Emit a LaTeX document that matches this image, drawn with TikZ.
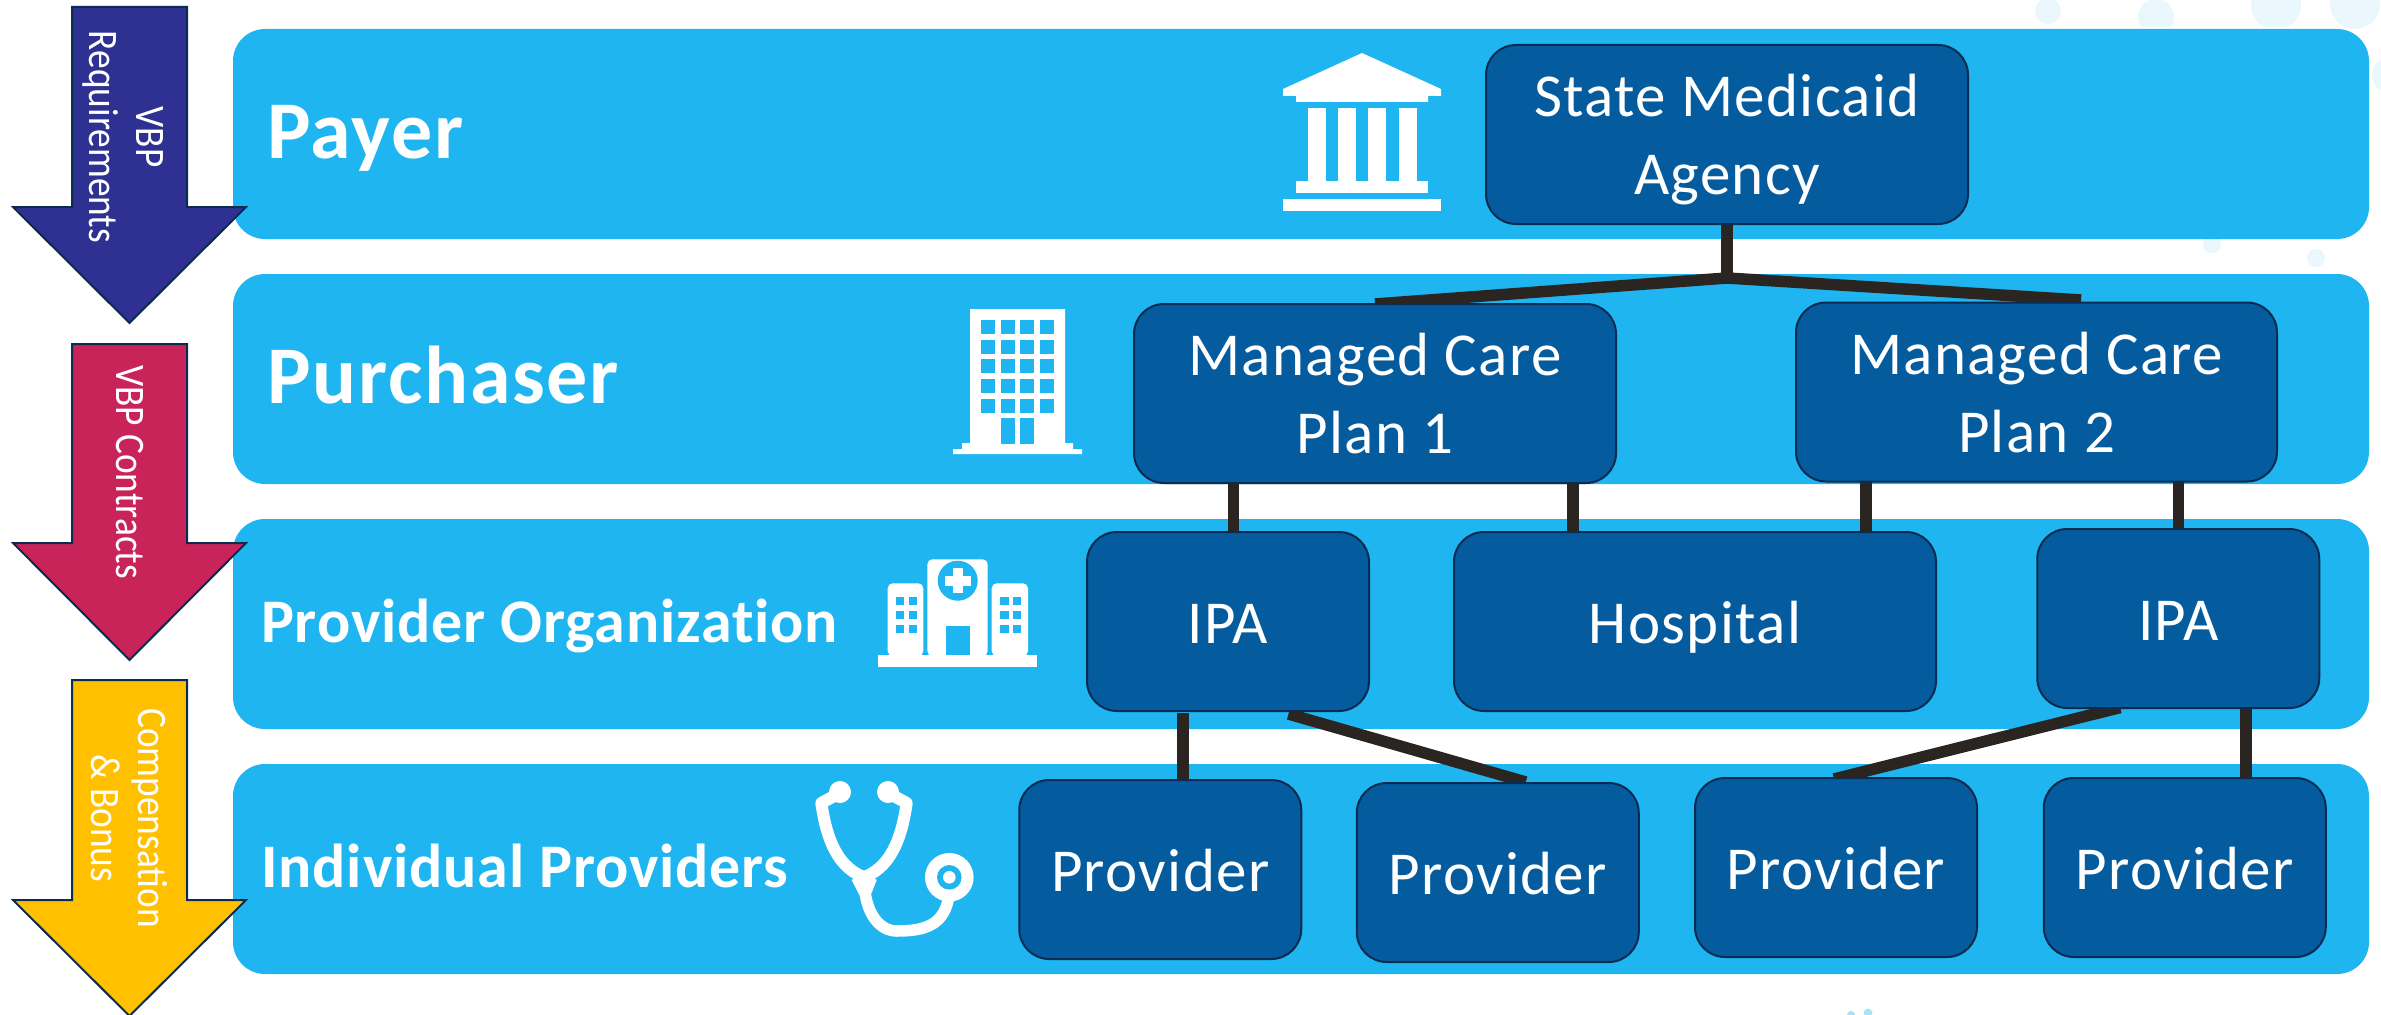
\documentclass[tikz,border=0pt]{standalone}
\usepackage{fontspec}
\setmainfont{Carlito}[Ligatures = NoCommon, LetterSpace = 1.4]
\newfontfamily\boxfont{Carlito}[Ligatures = NoCommon, LetterSpace = 2.2]
\newfontfamily\sidefont{Carlito}[FakeStretch = 0.89]
\usepackage{xcolor}
\usetikzlibrary{calc, backgrounds}

\definecolor{bandblue}{HTML}{1EB5F0}
\definecolor{boxblue}{HTML}{045C9F}
\definecolor{boxedge}{HTML}{0B2C50}
\definecolor{linkdark}{HTML}{2B2522}
\definecolor{navyarrow}{HTML}{2E3192}
\definecolor{redarrow}{HTML}{C9245A}
\definecolor{goldarrow}{HTML}{FFC000}
\definecolor{paledot}{HTML}{EAF7FD}
\definecolor{brightdot}{HTML}{A5E3F7}

\tikzset{
	band/.style = {fill = bandblue, rounded corners = 32pt},
	orgbox/.style = {draw = boxedge, fill = boxblue, line width = 2pt, rounded corners = 30pt, text = white, align = center, minimum width = 282pt, minimum height = 179pt, inner sep = 0pt, outer sep = 0pt, text depth = 0pt, font = \boxfont\fontsize{61}{78}\selectfont},
	oneline/.style = {orgbox, text height = 43pt},
	link/.style = {draw = linkdark, line width = 11.5pt},
	bandlabel/.style = {anchor = base west, text = white, inner sep = 0pt, font = \boxfont\bfseries\fontsize{82}{90}\selectfont},
	smalllabel/.style = {bandlabel, font = \bfseries\fontsize{62}{70}\selectfont},
	sidelabel/.style = {rotate = -90, text = white, align = center, inner sep = 0pt, font = \sidefont\fontsize{42}{47}\selectfont},
	sidearrow/.style = {draw = boxedge, line width = 2pt, miter limit = 10}
}

\begin{document}
\begin{tikzpicture}[x = 1pt, y = -1pt]
		\useasboundingbox (0,0) rectangle (2381,1014);
		
		%faint dots and bands go behind everything
		\begin{scope}[on background layer]
			\fill [paledot] (2048,11) circle [radius = 13pt];
			\fill [paledot] (2156,17) circle [radius = 18pt];
			\fill [paledot] (2276,5) circle [radius = 25pt];
			\fill [paledot] (2355,4) circle [radius = 25pt];
			\fill [paledot] (2390,75) circle [radius = 18pt];
			\fill [paledot] (2212,244) circle [radius = 9pt];
			\fill [paledot] (2316,258) circle [radius = 9pt];
			\fill [brightdot] (1851,1015) circle [radius = 4pt];
			\fill [brightdot] (1868,1013) circle [radius = 4.5pt];
			\fill [white] (2100,27) rectangle (2340,29);
			\foreach \ya/\yb in {29/239, 274/484, 519/729, 764/974}
				\fill [band] (233,\ya) rectangle (2369,\yb);
		\end{scope}
		
		%boxes
		\node [orgbox, minimum width = 482pt] (state) at (1727,134.5) {State Medicaid\\Agency};
		\node [orgbox, minimum width = 482pt] (plan1) at (1375,393.5) {Managed Care\\Plan 1};
		\node [orgbox, minimum width = 481pt] (plan2) at (2036.5,392) {Managed Care\\Plan 2};
		\node [oneline] (ipa1) at (1228,621.5) {IPA};
		\node [oneline, minimum width = 482pt] (hospital) at (1695,621.5) {Hospital};
		\node [oneline] (ipa2) at (2178.25,618.5) {IPA};
		\node [oneline] (provider1) at (1160.25,869.5) {Provider};
		\node [oneline] (provider2) at (1497.75,872.5) {Provider};
		\node [oneline] (provider3) at (1836,867.5) {Provider};
		\node [oneline] (provider4) at (2184.75,867.5) {Provider};
		
		%connectors sit under the boxes
		\coordinate (branch) at ($ (state.south) + (0,54) $);
		\coordinate (tap a) at ($ (ipa1.north) + (5.4,0) $);
		\coordinate (tap b) at ($ (hospital.north) + (-122,0) $);
		\coordinate (tap c) at ($ (hospital.north) + (171,0) $);
		\coordinate (tap d) at ($ (ipa1.south) + (-45,0) $);
		\coordinate (tap e) at ($ (ipa2.south) + (67.75,0) $);
		\begin{scope}[on background layer]
			\draw [link] (state.south) -- (branch);
			\draw [link] (branch) -- (plan1.north);
			\draw [link] (branch) -- ($ (plan2.north) + (44.5,-2.5) $);
			\draw [link] (tap a) -- (tap a |- plan1.south);
			\draw [link] (tap b) -- (tap b |- plan1.south);
			\draw [link] (tap c) -- (tap c |- plan2.south);
			\draw [link] (ipa2.north) -- (ipa2.north |- plan2.south);
			\draw [link] ($ (tap d) + (0,2) $) -- (tap d |- provider1.north);
			\draw [link] ($ (ipa1.south) + (60.5,3) $) -- ($ (provider2.north) + (28,-1) $);
			\draw [link] ($ (ipa2.south) + (-58,-0.5) $) -- ($ (provider3.north) + (-2,1) $);
			\draw [link] (tap e) -- (tap e |- provider4.north);
		\end{scope}
		
		%band labels
		\node [bandlabel] (payer) at (267,158) {Payer};
		\node [bandlabel] (purchaser) at (267,403) {Purchaser};
		\node [smalllabel] (organization) at (261,642) {Provider Organization};
		\node [smalllabel] (individual) at (261,887) {Individual Providers};
		
		%side arrows
		\foreach \ya/\neck/\tip/\shade in {7/207/323/navyarrow, 344/543/660/redarrow, 680/900/1016/goldarrow}
			\draw [sidearrow, fill = \shade] (72,\ya) -- (187,\ya) -- (187,\neck) -- (246,\neck) -- (129.5,\tip) -- (13,\neck) -- (72,\neck) -- cycle;
		\node [sidelabel] (requirements) at (123,137) {VBP\\Requirements};
		\node [sidelabel] (contracts) at (129.5,472) {VBP Contracts};
		\node [sidelabel] (compensation) at (129.5,818) {Compensation\\\& Bonus};
		
		%bank
		\fill [white] (1362,53) -- (1441,89) -- (1441,96) -- (1428,96) -- (1428,102) -- (1296,102) -- (1296,96) -- (1283,96) -- (1283,89) -- cycle;
		\foreach \x in {1308,1338,1368,1399}
			\fill [white] (\x,108) rectangle ++(18,73);
		\fill [white] (1296,181) rectangle (1428,193);
		\fill [white] (1283,199) rectangle (1441,211);
		
		%office block
		\fill [white] (970,309) -- (1065,309) -- (1065,443) -- (1073,443) -- (1073,449) -- (1082,449) -- (1082,454) -- (953,454) -- (953,449) -- (962,449) -- (962,443) -- (970,443) -- cycle;
		\foreach \x in {981,1000.7,1020,1039.7}
			\foreach \y in {320.3,340,359.3,379,398.7}
				\fill [bandblue] (\x,\y) rectangle ++(14,14);
		\fill [bandblue] (1000.7,418) rectangle ++(14,25.7);
		\fill [bandblue] (1020,418) rectangle ++(14,25.7);
		
		%hospital
		\fill [white, rounded corners = 5pt] (927.3,656) -- (927.3,559.3) -- (987.7,559.3) -- (987.7,656) -- cycle;
		\fill [white, rounded corners = 5pt] (887.7,656) -- (887.7,583.3) -- (923.3,583.3) -- (923.3,656) -- cycle;
		\fill [white, rounded corners = 5pt] (991.7,656) -- (991.7,583.3) -- (1028,583.3) -- (1028,656) -- cycle;
		\fill [white] (878,655) rectangle (1036.7,666.7);
		\fill [bandblue] (957.7,580.7) circle [radius = 20pt];
		\fill [white] (953,568.3) rectangle (963,593.3);
		\fill [white] (945,576) rectangle (970.7,586);
		\fill [bandblue] (946.3,626) rectangle (970,655);
		\foreach \x in {896,908.7,1000.3,1013}
			\foreach \y in {597,610.7,624.7}
				\fill [bandblue] (\x,\y) rectangle ++(8.3,8);
		
		%stethoscope
		\fill [white] (840,792) circle [radius = 11pt];
		\fill [white] (888,792) circle [radius = 11pt];
		\draw [white, line width = 12pt, line cap = round, line join = round] (836,795) -- (821.3,803) .. controls (825,828) and (833,866) .. (864,877) .. controls (895,866) and (903,828) .. (906.7,803) -- (892,795);
		\fill [white] (851.7,880) -- (859.3,895) -- (870.7,895) -- (876.7,880) -- (864,872) -- cycle;
		\draw [white, line width = 11.5pt] (865,892) .. controls (868,915) and (880,931) .. (897,931) .. controls (925,931) and (945,925) .. (949,895);
		\fill [white] (949.3,877.3) circle [radius = 24.3pt];
		\fill [bandblue] (949.3,877.3) circle [radius = 12.3pt];
		\fill [white] (949.3,877.3) circle [radius = 6.3pt];
	\end{tikzpicture}
\end{document}
